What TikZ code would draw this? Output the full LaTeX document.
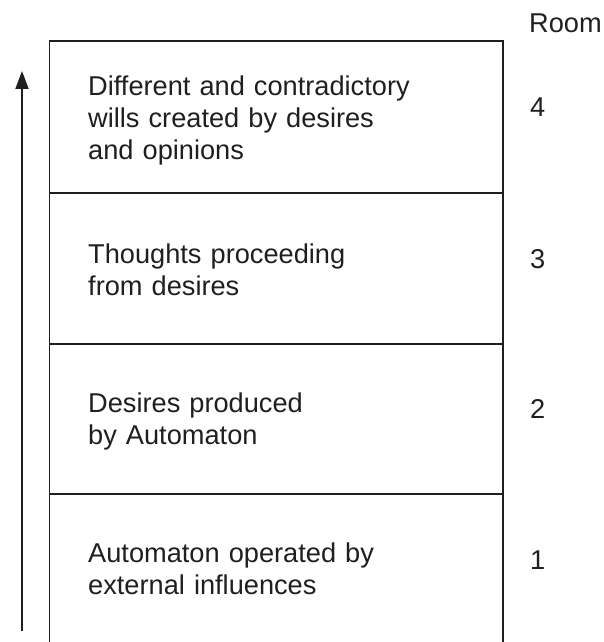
\documentclass[tikz,border=0pt]{standalone}
\usepackage{fontspec}
\setmainfont{Liberation Sans}
\usetikzlibrary{arrows.meta}
\begin{document}
\begin{tikzpicture}[x=1bp,y=-1bp,
  wall/.style={line width=1.9bp, draw=black!88},
  roomtext/.style={anchor=base west, inner sep=0pt, text width=400bp, align=left,
    font=\fontsize{27.2bp}{32bp}\selectfont, text=black!88},
  roomno/.style={anchor=base west, inner sep=0pt,
    font=\fontsize{27.2bp}{32bp}\selectfont, text=black!88},
  rise/.style={line width=1.9bp, draw=black!88, -{Triangle[length=18bp,width=13bp]}}]
\useasboundingbox (0,0) rectangle (604,642);

% outer walls, open at the bottom
\draw[wall] (49.5,642) -- (49.5,41) -- (503,41) -- (503,642);
% floors between the rooms
\draw[wall] (49.5,193) -- (503,193);
\draw[wall] (49.5,344) -- (503,344);
\draw[wall] (49.5,494) -- (503,494);

% room contents
\node[roomtext] (r4) at (88,96) {Different and contradictory\\wills created by desires\\and opinions};
\node[roomtext] (r3) at (88,263) {Thoughts proceeding\\from desires};
\node[roomtext] (r2) at (88,412) {Desires produced\\by Automaton};
\node[roomtext] (r1) at (88,562) {Automaton operated by\\external influences};

% room numbers
\node[roomno] (room) at (529,33) {Room};
\node[roomno] (n4) at (530,117) {4};
\node[roomno] (n3) at (530,268) {3};
\node[roomno] (n2) at (530,418) {2};
\node[roomno] (n1) at (530,569) {1};

% upward arrow
\coordinate (up0) at (22,631);
\coordinate (up1) at (22,71);
\draw[rise] (up0) -- (up1);
\end{tikzpicture}
\end{document}
